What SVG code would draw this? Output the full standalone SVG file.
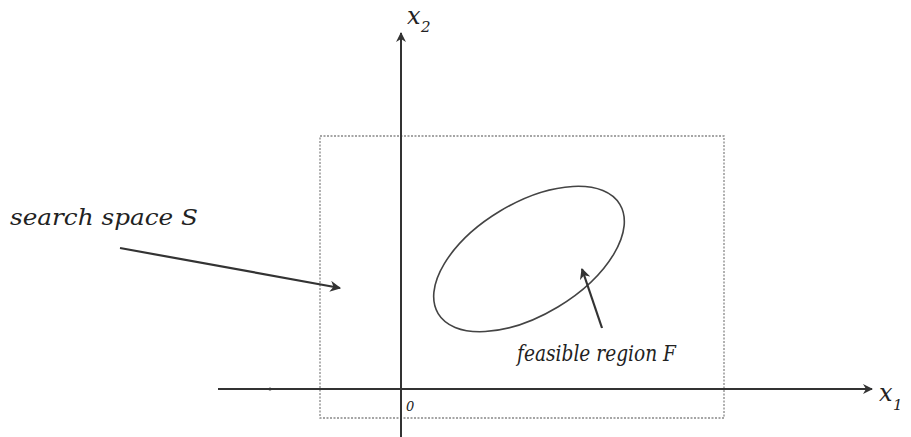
<svg xmlns="http://www.w3.org/2000/svg" width="911" height="437" viewBox="0 0 911 437">
<style>
.t{font-family:"DejaVu Serif","Liberation Serif",serif;font-style:italic;fill:#222}
.ax{stroke:#333;stroke-width:2;fill:none}
</style>
<defs>
<marker id="ah" viewBox="0 0 10 10" refX="9" refY="5" markerWidth="5" markerHeight="5" orient="auto" markerUnits="strokeWidth">
<path d="M0,0 L10,5 L0,10 L3,5 z" fill="#333"/>
</marker>
</defs>
<rect width="911" height="437" fill="#fff"/>
<g id="search-space">
<rect x="320" y="136" width="404" height="282" fill="none" stroke="#888" stroke-width="1.3" stroke-dasharray="2,1.5"/>
</g>
<g id="axes">
<line class="ax" x1="401" y1="437" x2="401" y2="33" marker-end="url(#ah)"/>
<line class="ax" x1="218" y1="389" x2="872" y2="389" marker-end="url(#ah)"/>
<circle cx="270" cy="389" r="1.6" fill="#333"/>
</g>
<g id="feasible-region">
<ellipse cx="529" cy="259" rx="106" ry="56" transform="rotate(-31 529 259)" fill="none" stroke="#444" stroke-width="1.6"/>
</g>
<g id="connectors">
<line x1="120" y1="248" x2="340" y2="288" stroke="#333" stroke-width="2.2" marker-end="url(#ah)"/>
<line x1="602" y1="328" x2="582" y2="269" stroke="#333" stroke-width="2.2" marker-end="url(#ah)"/>
</g>
<g id="labels">
<text class="t" x="10" y="225" font-size="23" textLength="188" lengthAdjust="spacingAndGlyphs">search space S</text>
<text class="t" x="517" y="361" font-size="23" textLength="159" lengthAdjust="spacingAndGlyphs">feasible region F</text>
<text class="t" x="407" y="24" font-size="24">x</text>
<text class="t" x="421" y="32" font-size="15">2</text>
<text class="t" x="879" y="401" font-size="24">x</text>
<text class="t" x="893" y="410" font-size="15">1</text>
<text class="t" x="406" y="411" font-size="13">0</text>
</g>
</svg>
